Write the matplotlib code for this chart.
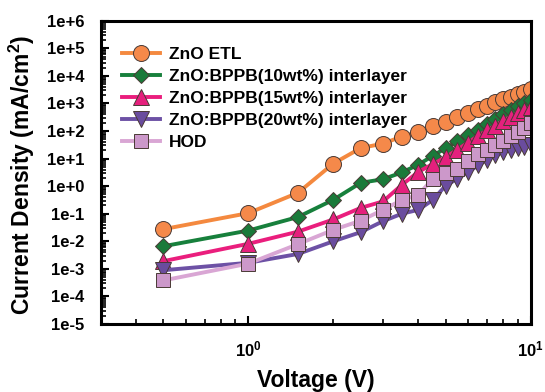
import matplotlib
matplotlib.use("Agg")
import matplotlib.pyplot as plt
from matplotlib.ticker import FixedLocator, NullFormatter, LogLocator

plt.rcParams['font.family'] = ['Liberation Sans', 'DejaVu Sans']
plt.rcParams['font.weight'] = 'bold'
plt.rcParams['mathtext.fontset'] = 'custom'
plt.rcParams['mathtext.rm'] = 'Liberation Sans:bold'
plt.rcParams['mathtext.bf'] = 'Liberation Sans:bold'

voltage = [0.5, 1.0, 1.5, 2.0, 2.5, 3.0, 3.5, 4.0, 4.5, 5.0,
           5.5, 6.0, 6.5, 7.0, 7.5, 8.0, 8.5, 9.0, 9.5, 10.0]

zno_etl = [0.0275, 0.105, 0.575, 6.6, 24, 35, 63, 93, 151, 219,
           324, 457, 603, 832, 1096, 1413, 1778, 2188, 2692, 3236]
bppb10 = [0.0066, 0.0245, 0.076, 0.32, 1.32, 1.78, 3.16, 6.0, 12.6, 24,
          42, 71, 112, 178, 269, 398, 575, 794, 1047, 1318]
bppb15 = [0.0019, 0.0081, 0.0224, 0.062, 0.162, 0.28, 1.12, 3.3, 6.3, 11.2,
          21, 38, 66, 105, 158, 240, 331, 447, 575, 759]
bppb20 = [0.00089, 0.00166, 0.00347, 0.010, 0.0214, 0.0537, 0.10, 0.138, 0.316, 1.05,
          1.86, 3.24, 5.6, 9.1, 13.2, 17.4, 21, 24.5, 26.9, 30.2]
hod = [0.00038, 0.00155, 0.0079, 0.026, 0.056, 0.138, 0.316, 0.48, 1.86, 2.95,
       4.27, 7.9, 14.1, 21, 30, 44, 65, 91, 132, 190]

series_labels = ["ZnO ETL", "ZnO:BPPB(10wt%) interlayer", "ZnO:BPPB(15wt%) interlayer",
                 "ZnO:BPPB(20wt%) interlayer", "HOD"]

ytick_values = [1e-5, 1e-4, 1e-3, 1e-2, 1e-1, 1e0, 1e1, 1e2, 1e3, 1e4, 1e5, 1e6]
ytick_labels = ["1e-5", "1e-4", "1e-3", "1e-2", "1e-1", "1e+0", "1e+1", "1e+2",
                "1e+3", "1e+4", "1e+5", "1e+6"]
xtick_values = [1, 10]
xtick_labels = [r"$\mathbf{10^{0}}$", r"$\mathbf{10^{1}}$"]

styles = [
    dict(color="#F4893F", marker="o", mfc="#F5894A", ms=11.5),
    dict(color="#17803C", marker="D", mfc="#1A7A3A", ms=8.5),
    dict(color="#EA1E7D", marker="^", mfc="#E5207D", ms=11.5),
    dict(color="#6D51A5", marker="v", mfc="#6A4C9E", ms=11.5),
    dict(color="#D9A6D4", marker="s", mfc="#CC98CA", ms=10.5),
]

fig = plt.figure(figsize=(5.45, 3.92), dpi=100)
ax = fig.add_axes([0.1848, 0.1735, 0.789, 0.7737])

for ys, lab, st in zip([zno_etl, bppb10, bppb15, bppb20, hod], series_labels, styles):
    ax.plot(voltage, ys, color=st["color"], lw=2.8, marker=st["marker"],
            markerfacecolor=st["mfc"], markeredgecolor="#4a3a35", markeredgewidth=0.7,
            markersize=st["ms"], label=lab)

ax.set_xscale("log")
ax.set_yscale("log")
ax.set_xlim(0.3, 10)
ax.set_ylim(1e-5, 1e6)

ax.yaxis.set_major_locator(FixedLocator(ytick_values))
ax.set_yticklabels(ytick_labels)
ax.yaxis.set_minor_locator(LogLocator(base=10, subs=range(2, 10), numticks=100))
ax.yaxis.set_minor_formatter(NullFormatter())
ax.xaxis.set_major_locator(FixedLocator(xtick_values))
ax.set_xticklabels(xtick_labels)
ax.xaxis.set_minor_locator(LogLocator(base=10, subs=range(2, 10), numticks=100))
ax.xaxis.set_minor_formatter(NullFormatter())

ax.tick_params(axis="both", which="major", direction="in", length=6, width=1.5,
               labelsize=12, top=False, right=False)
ax.tick_params(axis="both", which="minor", direction="in", length=3.5, width=1.2,
               top=False, right=False)
ax.tick_params(axis="y", which="major", pad=12)
ax.tick_params(axis="x", which="major", pad=11)
for lbl in ax.get_xticklabels() + ax.get_yticklabels():
    lbl.set_fontweight("bold")

for sp in ax.spines.values():
    sp.set_linewidth(2.2)

fig.text(0.04, 0.555, "Current Density (mA/cm$^{\\mathbf{2}}$)", rotation=90,
         ha="center", va="center", fontsize=16.5, fontweight="bold")
fig.text(0.579, 0.03, "Voltage (V)", ha="center", va="center", fontsize=16.5,
         fontweight="bold")

leg = ax.legend(loc="upper left", bbox_to_anchor=(0.049, 0.915), frameon=False,
                borderpad=0, borderaxespad=0, handlelength=2.2, handletextpad=0.5,
                labelspacing=0.4, numpoints=1, prop=dict(size=12.5, weight="bold"))

fig.savefig("out.png", dpi=100)
